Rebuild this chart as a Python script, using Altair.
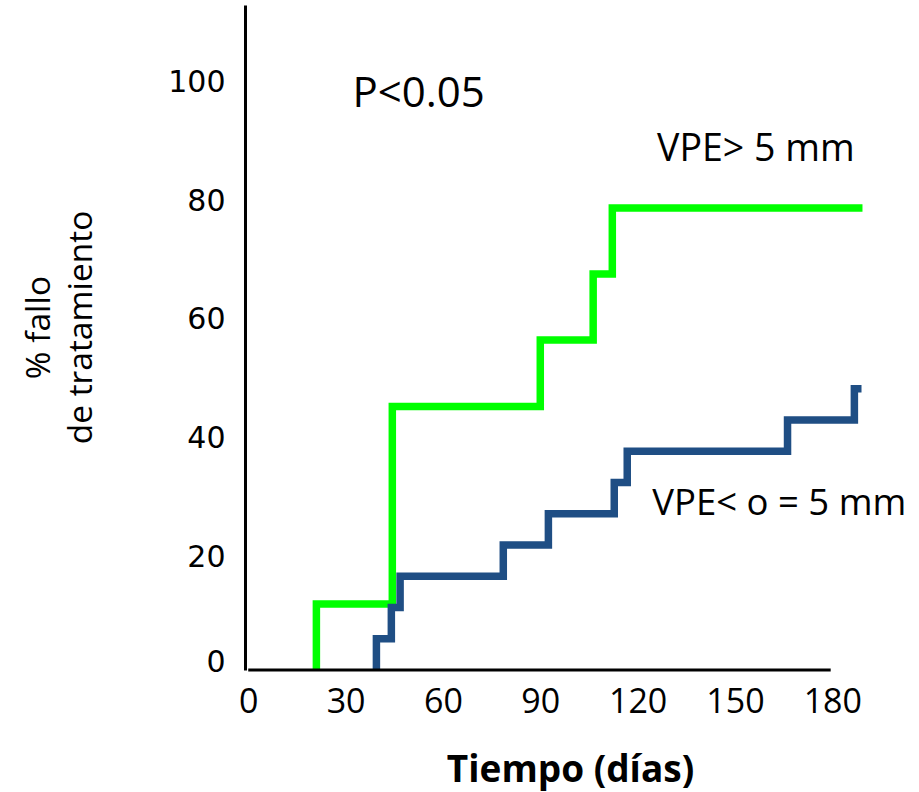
import altair as alt
import pandas as pd

# Series (days, % treatment failure), step-after curves
green_days = [21.0, 21.0, 44.4, 90.0, 106.3, 112.2, 189.3]
green_vals = [0.0, 11.1, 44.4, 55.6, 66.7, 77.8, 77.8]
blue_days = [39.5, 39.5, 44.1, 46.8, 78.6, 92.5, 112.8, 116.8, 166.2, 186.8, 189.0]
blue_vals = [0.0, 5.26, 10.53, 15.79, 21.05, 26.32, 31.58, 36.84, 42.11, 47.37, 47.37]

x_ticks = [0, 30, 60, 90, 120, 150, 180]
y_ticks = [0, 20, 40, 60, 80, 100]

labels = ["P<0.05", "VPE> 5 mm", "VPE< o = 5 mm"]
label_x = [52.5, 126.0, 124.5]
label_y = [97.0, 87.5, 28.0]
label_align = ["center", "left", "left"]
label_size = [42, 37.5, 36.5]

x_axis_end = 179.5

df = pd.concat([
    pd.DataFrame({"dia": green_days, "pct": green_vals, "grupo": "VPE> 5 mm", "o": range(len(green_days))}),
    pd.DataFrame({"dia": blue_days, "pct": blue_vals, "grupo": "VPE< o = 5 mm", "o": range(len(blue_days))}),
])
lab = pd.DataFrame({"t": labels, "x": label_x, "y": label_y, "a": label_align, "s": label_size})
axis_df = pd.DataFrame({"x": [0], "x2": [x_axis_end], "y": [0]})

xs = alt.Scale(domain=[-1, 191], nice=False, zero=False)
ys = alt.Scale(domain=[0, 112], nice=False)

sans = "Open Sans"

lines = alt.Chart(df).mark_line(interpolate="step-after", strokeWidth=7.5, strokeCap="butt", strokeJoin="miter").encode(
    x=alt.X("dia:Q", scale=xs, axis=alt.Axis(
        values=x_ticks, domain=False, ticks=False, grid=False,
        labelFont=sans, labelFontSize=34, labelColor="black", labelPadding=15,
        title="Tiempo (días)", titleFont=sans, titleFontSize=37, titleFontWeight="bold",
        titleColor="black", titleX=325, titleY=100, titleBaseline="middle", titleAlign="center")),
    y=alt.Y("pct:Q", scale=ys, axis=alt.Axis(
        values=y_ticks, domain=True, domainColor="black", domainWidth=3, ticks=False, grid=False,
        labelFont="DejaVu Sans", labelFontSize=30, labelColor="black", labelPadding=20,
        labelOffset=alt.expr("datum.value == 0 ? -8 : 6"),
        title=["% fallo", "de tratamiento"], titleFont=sans, titleFontSize=33.5, titleFontWeight="normal",
        titleColor="black", titleAngle=-90, titleX=-206, titleY=322, titleBaseline="middle",
        titleAlign="center", titleLineHeight=42)),
    color=alt.Color("grupo:N", scale=alt.Scale(domain=["VPE> 5 mm", "VPE< o = 5 mm"],
                                                range=["#00FF00", "#1F4E84"]), legend=None),
    order="o:Q",
)

xline = alt.Chart(axis_df).mark_rule(color="black", strokeWidth=3).encode(
    x=alt.X("x:Q", scale=xs), x2="x2:Q", y=alt.Y("y:Q", scale=ys))

def text_layer(align):
    return alt.Chart(lab).transform_filter(alt.datum.a == align).mark_text(
        font=sans, color="black", baseline="middle", align=align).encode(
        x=alt.X("x:Q", scale=xs), y=alt.Y("y:Q", scale=ys), text="t:N",
        size=alt.Size("s:Q", scale=None, legend=None))

chart = alt.layer(lines, xline, text_layer("center"), text_layer("left")).properties(
    width=623, height=665,
    padding={"left": 245, "top": 5, "right": 51, "bottom": 122},
    autosize=alt.AutoSizeParams(type="none"),
    background="white",
).configure_view(stroke=None)

chart.save("out.html", embed_options={"renderer": "svg", "actions": False})
